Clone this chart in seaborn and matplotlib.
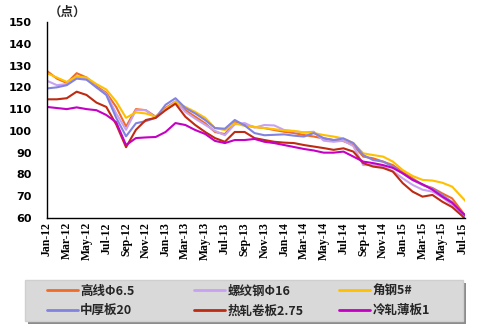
import matplotlib
matplotlib.use("Agg")
import matplotlib.pyplot as plt
import seaborn as sns
import pandas as pd
from matplotlib.font_manager import FontProperties
from matplotlib.patches import Rectangle

# ---- data (index, 2012-01 = month 0) ----
months = list(range(43)) + [42.4]

gaoxian = [127.5, 124, 122, 126.5, 124.5, 120.5, 117.5, 111, 102, 110, 109.5, 106.5,
           110.5, 113.5, 109.5, 106.5, 103.5, 99.5, 98.5, 104, 102.7, 101.8, 101.3, 100.4,
           99.6, 99, 98.1, 97.4, 96.5, 95.8, 95.3, 93.5, 88.2, 87.4, 85.9, 84.3,
           81, 78.2, 75.2, 73.8, 71.3, 69, 63, 60.5]
luowen = [123, 121, 121.5, 125, 124, 120, 117, 108, 100.5, 109.5, 109.5, 106,
          110, 113.5, 108.7, 105.6, 102.8, 100, 98, 103, 103.6, 101.5, 102.7, 102.5,
          100.4, 99.8, 99.3, 99.6, 95.5, 95, 95.5, 93, 84.3, 84.3, 83.6, 81.5,
          78.2, 75.2, 73, 72.1, 69.5, 66, 62, 60]
jiaogang = [126.5, 124.5, 122.5, 125, 124.5, 121.5, 119, 113.5, 106, 108.5, 108, 106.5,
            110, 113, 111, 108.7, 106, 101.3, 100.4, 103.5, 102.3, 101.8, 101.3, 100.8,
            100.2, 100, 99.3, 99, 98.1, 97.4, 96.5, 94.4, 89.7, 88.9, 88.2, 85.9,
            82, 79.3, 77.5, 77.2, 76.2, 74.4, 69.5, 67.5]
zhonghou = [119.5, 120, 121, 124, 123.5, 120, 116.5, 106, 97.5, 103.5, 104.5, 106,
            112, 115, 110.5, 108, 105, 101.3, 101, 105, 102.5, 99, 98, 98.2,
            98.4, 97.8, 97.4, 99, 96.7, 95.8, 96.5, 94.4, 88.9, 86.6, 85.9, 83.6,
            80.5, 77.5, 75.2, 73.5, 70.5, 67.3, 62.5, 60.5]
rezha = [114.5, 114.5, 115, 118, 116.5, 113, 111, 103, 92.5, 100.5, 105, 106,
         109.5, 112.5, 106.5, 102.7, 99.5, 96.7, 95, 99.5, 99.5, 96.7, 95.8, 95,
         94.6, 94.4, 93.5, 92.8, 92.1, 91.3, 92, 90.5, 85.2, 83.6, 83, 81.3,
         76, 72.1, 69.8, 70.6, 67.5, 65, 61, 59]
lengzha = [111, 110.5, 110, 110.8, 110, 109.5, 107.3, 104, 93.5, 96.7, 97, 97.2,
           99.5, 103.6, 102.7, 100.4, 98.6, 95.4, 94.4, 95.8, 95.8, 96.3, 95, 94.4,
           93.5, 92.6, 91.7, 91, 90, 90, 90.5, 88.2, 85.9, 85.2, 84.3, 83,
           80.5, 77.5, 75.5, 73, 69.8, 67, 62.5, 61]

series_names = ["高线Φ6.5", "螺纹钢Φ16", "角钢5#", "中厚板20", "热轧卷板2.75", "冷轧薄板1"]
series_values = [gaoxian, luowen, jiaogang, zhonghou, rezha, lengzha]
colors = ["#F06A28", "#C8A2F0", "#FFC000", "#8282E0", "#BE2A12", "#C400C4"]

tick_pos = list(range(0, 43, 2))
tick_labels = ["Jan-12", "Mar-12", "May-12", "Jul-12", "Sep-12", "Nov-12",
               "Jan-13", "Mar-13", "May-13", "Jul-13", "Sep-13", "Nov-13",
               "Jan-14", "Mar-14", "May-14", "Jul-14", "Sep-14", "Nov-14",
               "Jan-15", "Mar-15", "May-15", "Jul-15"]
y_ticks = [60, 70, 80, 90, 100, 110, 120, 130, 140, 150]
unit_label = "（点）"

# ---- long-form table ----
rows = []
for name, vals in zip(series_names, series_values):
    for m, v in zip(months, vals):
        rows.append({"month": m, "value": v, "series": name})
df = pd.DataFrame(rows)

sns.set_style("white")
plt.rcParams['font.family'] = ['DejaVu Sans']

W, H = 482, 333
fig = plt.figure(figsize=(4.82, 3.33), dpi=100)
ax = fig.add_axes([47 / W, 1 - 218 / H, (465 - 47) / W, (218 - 22) / H])

sns.lineplot(data=df, x="month", y="value", hue="series", hue_order=series_names,
             palette=colors, linewidth=1.5, ax=ax, legend=True)

handles, labels = ax.get_legend_handles_labels()
ax.get_legend().remove()

ax.set_xlim(0, 42.3)
ax.set_ylim(60, 150)
ax.set_yticks(y_ticks)
ax.set_xticks(tick_pos)
ax.set_xticklabels(tick_labels, rotation=90, fontfamily="Liberation Serif",
                   fontweight="bold", fontsize=8.5)
for lab in ax.get_yticklabels():
    lab.set_fontweight("bold")
    lab.set_fontsize(8)
ax.tick_params(axis="y", direction="in", length=4, width=1, pad=11, colors="black")
ax.tick_params(axis="x", direction="in", length=4, width=1, pad=3, colors="black")
ax.set_xlabel("")
ax.set_ylabel("")
for s in ["top", "right"]:
    ax.spines[s].set_visible(False)
for s in ["left", "bottom"]:
    ax.spines[s].set_color("black")
    ax.spines[s].set_linewidth(1)
ax.grid(False)

fig.text(49 / W, 1 - 12 / H, unit_label, fontsize=9, fontweight="bold",
         family=["Noto Sans CJK SC", "DejaVu Sans"], va="center", ha="left")

# ---- legend box with shadow ----
bx0, bx1, by0, by1 = 25, 463, 280, 321
fig.patches.append(Rectangle(((bx0 + 3) / W, 1 - (by1 + 3) / H), (bx1 - bx0) / W,
                             (by1 - by0) / H, transform=fig.transFigure,
                             facecolor="#8c8c8c", edgecolor="none", zorder=0))
fig.patches.append(Rectangle((bx0 / W, 1 - by1 / H), (bx1 - bx0) / W,
                             (by1 - by0) / H, transform=fig.transFigure,
                             facecolor="#d9d9d9", edgecolor="#cfcfcf", zorder=1))

for hh in handles:
    hh.set_linewidth(2)
col_x = [44, 191, 336]
prop = FontProperties(family=["Noto Sans CJK SC", "DejaVu Sans"], weight="bold", size=9)
for c in range(3):
    idx = [c, c + 3]
    lg = fig.legend([handles[i] for i in idx], [labels[i] for i in idx],
                    loc="upper left", bbox_to_anchor=(col_x[c] / W, 1 - 282 / H),
                    prop=prop, frameon=False, handlelength=2.5, handletextpad=0.2,
                    borderaxespad=0, labelspacing=0.55, borderpad=0.2)
    lg.set_zorder(5)

fig.savefig("out.png", dpi=100)
